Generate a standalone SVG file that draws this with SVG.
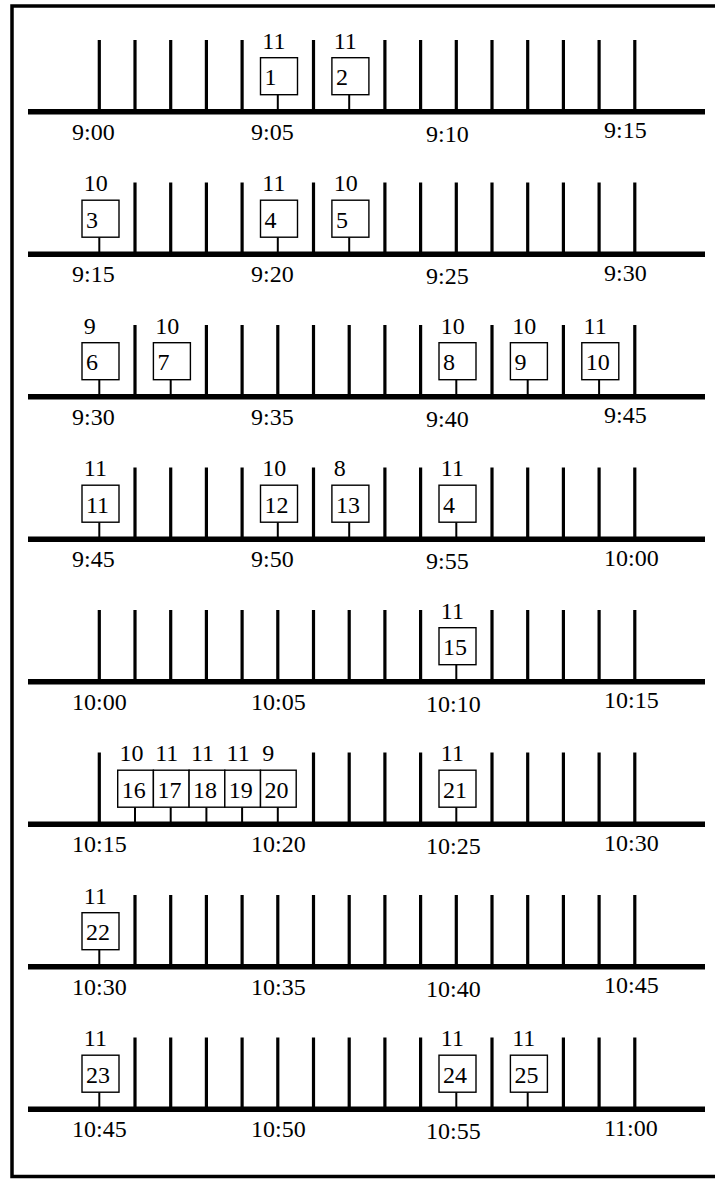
<svg xmlns="http://www.w3.org/2000/svg" width="715" height="1180" viewBox="0 0 715 1180">
<style>
.frame{fill:none;stroke:#000;stroke-width:3.5}
.axis{stroke:#000;stroke-width:5.5}
.tick{stroke:#000;stroke-width:3.2}
.stem{stroke:#000;stroke-width:2}
.box{fill:#fff;stroke:#000;stroke-width:1.4}
text{font-family:'Liberation Serif','DejaVu Serif','Times New Roman',serif;font-size:24px;fill:#000}
</style>
<defs>
<line id="t" class="tick" x1="0" y1="0" x2="0" y2="-71.7"/>
</defs>
<rect class="frame" x="12" y="6" width="760" height="1170.5"/>
<g font-family="Liberation Serif, DejaVu Serif, serif" font-size="24">
<g id="row1" transform="translate(0,111.7)">
<line class="axis" x1="28" y1="0" x2="705" y2="0"/>
<use href="#t" x="99.3"/><use href="#t" x="135"/><use href="#t" x="170.7"/><use href="#t" x="206.4"/><use href="#t" x="242.1"/><use href="#t" x="313.5"/><use href="#t" x="384.9"/><use href="#t" x="420.6"/><use href="#t" x="456.3"/><use href="#t" x="492"/><use href="#t" x="527.7"/><use href="#t" x="563.4"/><use href="#t" x="599.1"/><use href="#t" x="634.8"/>
<text x="72" y="28">9:00</text><text x="251" y="28">9:05</text><text x="426" y="30">9:10</text><text x="604" y="26.5">9:15</text>
</g>
<g id="row2" transform="translate(0,254.2)">
<line class="axis" x1="28" y1="0" x2="705" y2="0"/>
<use href="#t" x="135"/><use href="#t" x="170.7"/><use href="#t" x="206.4"/><use href="#t" x="242.1"/><use href="#t" x="313.5"/><use href="#t" x="384.9"/><use href="#t" x="420.6"/><use href="#t" x="456.3"/><use href="#t" x="492"/><use href="#t" x="527.7"/><use href="#t" x="563.4"/><use href="#t" x="599.1"/><use href="#t" x="634.8"/>
<text x="72" y="28">9:15</text><text x="251" y="28">9:20</text><text x="426" y="30">9:25</text><text x="604" y="26.5">9:30</text>
</g>
<g id="row3" transform="translate(0,396.7)">
<line class="axis" x1="28" y1="0" x2="705" y2="0"/>
<use href="#t" x="135"/><use href="#t" x="206.4"/><use href="#t" x="242.1"/><use href="#t" x="277.8"/><use href="#t" x="313.5"/><use href="#t" x="349.2"/><use href="#t" x="384.9"/><use href="#t" x="420.6"/><use href="#t" x="492"/><use href="#t" x="563.4"/><use href="#t" x="634.8"/>
<text x="72" y="28">9:30</text><text x="251" y="28">9:35</text><text x="426" y="30">9:40</text><text x="604" y="26.5">9:45</text>
</g>
<g id="row4" transform="translate(0,539.2)">
<line class="axis" x1="28" y1="0" x2="705" y2="0"/>
<use href="#t" x="135"/><use href="#t" x="170.7"/><use href="#t" x="206.4"/><use href="#t" x="242.1"/><use href="#t" x="313.5"/><use href="#t" x="384.9"/><use href="#t" x="420.6"/><use href="#t" x="492"/><use href="#t" x="527.7"/><use href="#t" x="563.4"/><use href="#t" x="599.1"/><use href="#t" x="634.8"/>
<text x="72" y="28">9:45</text><text x="251" y="28">9:50</text><text x="426" y="30">9:55</text><text x="604" y="26.5">10:00</text>
</g>
<g id="row5" transform="translate(0,681.7)">
<line class="axis" x1="28" y1="0" x2="705" y2="0"/>
<use href="#t" x="99.3"/><use href="#t" x="135"/><use href="#t" x="170.7"/><use href="#t" x="206.4"/><use href="#t" x="242.1"/><use href="#t" x="277.8"/><use href="#t" x="313.5"/><use href="#t" x="349.2"/><use href="#t" x="384.9"/><use href="#t" x="420.6"/><use href="#t" x="492"/><use href="#t" x="527.7"/><use href="#t" x="563.4"/><use href="#t" x="599.1"/><use href="#t" x="634.8"/>
<text x="72" y="28">10:00</text><text x="251" y="28">10:05</text><text x="426" y="30">10:10</text><text x="604" y="26.5">10:15</text>
</g>
<g id="row6" transform="translate(0,824.2)">
<line class="axis" x1="28" y1="0" x2="705" y2="0"/>
<use href="#t" x="99.3"/><use href="#t" x="313.5"/><use href="#t" x="349.2"/><use href="#t" x="384.9"/><use href="#t" x="420.6"/><use href="#t" x="492"/><use href="#t" x="527.7"/><use href="#t" x="563.4"/><use href="#t" x="599.1"/><use href="#t" x="634.8"/>
<text x="72" y="28">10:15</text><text x="251" y="28">10:20</text><text x="426" y="30">10:25</text><text x="604" y="26.5">10:30</text>
</g>
<g id="row7" transform="translate(0,966.7)">
<line class="axis" x1="28" y1="0" x2="705" y2="0"/>
<use href="#t" x="135"/><use href="#t" x="170.7"/><use href="#t" x="206.4"/><use href="#t" x="242.1"/><use href="#t" x="277.8"/><use href="#t" x="313.5"/><use href="#t" x="349.2"/><use href="#t" x="384.9"/><use href="#t" x="420.6"/><use href="#t" x="456.3"/><use href="#t" x="492"/><use href="#t" x="527.7"/><use href="#t" x="563.4"/><use href="#t" x="599.1"/><use href="#t" x="634.8"/>
<text x="72" y="28">10:30</text><text x="251" y="28">10:35</text><text x="426" y="30">10:40</text><text x="604" y="26.5">10:45</text>
</g>
<g id="row8" transform="translate(0,1109.2)">
<line class="axis" x1="28" y1="0" x2="705" y2="0"/>
<use href="#t" x="135"/><use href="#t" x="170.7"/><use href="#t" x="206.4"/><use href="#t" x="242.1"/><use href="#t" x="277.8"/><use href="#t" x="313.5"/><use href="#t" x="349.2"/><use href="#t" x="384.9"/><use href="#t" x="420.6"/><use href="#t" x="492"/><use href="#t" x="563.4"/><use href="#t" x="599.1"/><use href="#t" x="634.8"/>
<text x="72" y="28">10:45</text><text x="251" y="28">10:50</text><text x="426" y="30">10:55</text><text x="604" y="26.5">11:00</text>
</g>

<g id="connectors">
<line class="stem" x1="277.8" y1="94.7" x2="277.8" y2="111.7"/>
<line class="stem" x1="349.2" y1="94.7" x2="349.2" y2="111.7"/>
<line class="stem" x1="99.3" y1="237.2" x2="99.3" y2="254.2"/>
<line class="stem" x1="277.8" y1="237.2" x2="277.8" y2="254.2"/>
<line class="stem" x1="349.2" y1="237.2" x2="349.2" y2="254.2"/>
<line class="stem" x1="99.3" y1="379.7" x2="99.3" y2="396.7"/>
<line class="stem" x1="170.7" y1="379.7" x2="170.7" y2="396.7"/>
<line class="stem" x1="456.3" y1="379.7" x2="456.3" y2="396.7"/>
<line class="stem" x1="527.7" y1="379.7" x2="527.7" y2="396.7"/>
<line class="stem" x1="599.1" y1="379.7" x2="599.1" y2="396.7"/>
<line class="stem" x1="99.3" y1="522.2" x2="99.3" y2="539.2"/>
<line class="stem" x1="277.8" y1="522.2" x2="277.8" y2="539.2"/>
<line class="stem" x1="349.2" y1="522.2" x2="349.2" y2="539.2"/>
<line class="stem" x1="456.3" y1="522.2" x2="456.3" y2="539.2"/>
<line class="stem" x1="456.3" y1="664.7" x2="456.3" y2="681.7"/>
<line class="stem" x1="135" y1="807.2" x2="135" y2="824.2"/>
<line class="stem" x1="170.7" y1="807.2" x2="170.7" y2="824.2"/>
<line class="stem" x1="206.4" y1="807.2" x2="206.4" y2="824.2"/>
<line class="stem" x1="242.1" y1="807.2" x2="242.1" y2="824.2"/>
<line class="stem" x1="277.8" y1="807.2" x2="277.8" y2="824.2"/>
<line class="stem" x1="456.3" y1="807.2" x2="456.3" y2="824.2"/>
<line class="stem" x1="99.3" y1="949.7" x2="99.3" y2="966.7"/>
<line class="stem" x1="99.3" y1="1092.2" x2="99.3" y2="1109.2"/>
<line class="stem" x1="456.3" y1="1092.2" x2="456.3" y2="1109.2"/>
<line class="stem" x1="527.7" y1="1092.2" x2="527.7" y2="1109.2"/>
</g>

<g id="n1" transform="translate(277.8,111.7)"><rect class="box" x="-17.3" y="-54" width="37" height="37"/><text x="-13.3" y="-26.5">1</text><text x="-15.5" y="-63">11</text></g>
<g id="n2" transform="translate(349.2,111.7)"><rect class="box" x="-17.3" y="-54" width="37" height="37"/><text x="-13.3" y="-26.5">2</text><text x="-15.5" y="-63">11</text></g>
<g id="n3" transform="translate(99.3,254.2)"><rect class="box" x="-17.3" y="-54" width="37" height="37"/><text x="-13.3" y="-26.5">3</text><text x="-15.5" y="-63">10</text></g>
<g id="n4" transform="translate(277.8,254.2)"><rect class="box" x="-17.3" y="-54" width="37" height="37"/><text x="-13.3" y="-26.5">4</text><text x="-15.5" y="-63">11</text></g>
<g id="n5" transform="translate(349.2,254.2)"><rect class="box" x="-17.3" y="-54" width="37" height="37"/><text x="-13.3" y="-26.5">5</text><text x="-15.5" y="-63">10</text></g>
<g id="n6" transform="translate(99.3,396.7)"><rect class="box" x="-17.3" y="-54" width="37" height="37"/><text x="-13.3" y="-26.5">6</text><text x="-15.5" y="-63">9</text></g>
<g id="n7" transform="translate(170.7,396.7)"><rect class="box" x="-17.3" y="-54" width="37" height="37"/><text x="-13.3" y="-26.5">7</text><text x="-15.5" y="-63">10</text></g>
<g id="n8" transform="translate(456.3,396.7)"><rect class="box" x="-17.3" y="-54" width="37" height="37"/><text x="-13.3" y="-26.5">8</text><text x="-15.5" y="-63">10</text></g>
<g id="n9" transform="translate(527.7,396.7)"><rect class="box" x="-17.3" y="-54" width="37" height="37"/><text x="-13.3" y="-26.5">9</text><text x="-15.5" y="-63">10</text></g>
<g id="n10" transform="translate(599.1,396.7)"><rect class="box" x="-17.3" y="-54" width="37" height="37"/><text x="-13.3" y="-26.5">10</text><text x="-15.5" y="-63">11</text></g>
<g id="n11" transform="translate(99.3,539.2)"><rect class="box" x="-17.3" y="-54" width="37" height="37"/><text x="-13.3" y="-26.5">11</text><text x="-15.5" y="-63">11</text></g>
<g id="n12" transform="translate(277.8,539.2)"><rect class="box" x="-17.3" y="-54" width="37" height="37"/><text x="-13.3" y="-26.5">12</text><text x="-15.5" y="-63">10</text></g>
<g id="n13" transform="translate(349.2,539.2)"><rect class="box" x="-17.3" y="-54" width="37" height="37"/><text x="-13.3" y="-26.5">13</text><text x="-15.5" y="-63">8</text></g>
<g id="n14" transform="translate(456.3,539.2)"><rect class="box" x="-17.3" y="-54" width="37" height="37"/><text x="-13.3" y="-26.5">4</text><text x="-15.5" y="-63">11</text></g>
<g id="n15" transform="translate(456.3,681.7)"><rect class="box" x="-17.3" y="-54" width="37" height="37"/><text x="-13.3" y="-26.5">15</text><text x="-15.5" y="-63">11</text></g>
<g id="n16" transform="translate(135,824.2)"><rect class="box" x="-17.3" y="-54" width="35.7" height="37"/><text x="-13.3" y="-26.5">16</text><text x="-15.5" y="-63">10</text></g>
<g id="n17" transform="translate(170.7,824.2)"><rect class="box" x="-17.3" y="-54" width="35.7" height="37"/><text x="-13.3" y="-26.5">17</text><text x="-15.5" y="-63">11</text></g>
<g id="n18" transform="translate(206.4,824.2)"><rect class="box" x="-17.3" y="-54" width="35.7" height="37"/><text x="-13.3" y="-26.5">18</text><text x="-15.5" y="-63">11</text></g>
<g id="n19" transform="translate(242.1,824.2)"><rect class="box" x="-17.3" y="-54" width="35.7" height="37"/><text x="-13.3" y="-26.5">19</text><text x="-15.5" y="-63">11</text></g>
<g id="n20" transform="translate(277.8,824.2)"><rect class="box" x="-17.3" y="-54" width="35.7" height="37"/><text x="-13.3" y="-26.5">20</text><text x="-15.5" y="-63">9</text></g>
<g id="n21" transform="translate(456.3,824.2)"><rect class="box" x="-17.3" y="-54" width="37" height="37"/><text x="-13.3" y="-26.5">21</text><text x="-15.5" y="-63">11</text></g>
<g id="n22" transform="translate(99.3,966.7)"><rect class="box" x="-17.3" y="-54" width="37" height="37"/><text x="-13.3" y="-26.5">22</text><text x="-15.5" y="-63">11</text></g>
<g id="n23" transform="translate(99.3,1109.2)"><rect class="box" x="-17.3" y="-54" width="37" height="37"/><text x="-13.3" y="-26.5">23</text><text x="-15.5" y="-63">11</text></g>
<g id="n24" transform="translate(456.3,1109.2)"><rect class="box" x="-17.3" y="-54" width="37" height="37"/><text x="-13.3" y="-26.5">24</text><text x="-15.5" y="-63">11</text></g>
<g id="n25" transform="translate(527.7,1109.2)"><rect class="box" x="-17.3" y="-54" width="37" height="37"/><text x="-13.3" y="-26.5">25</text><text x="-15.5" y="-63">11</text></g>
</g>
</svg>
